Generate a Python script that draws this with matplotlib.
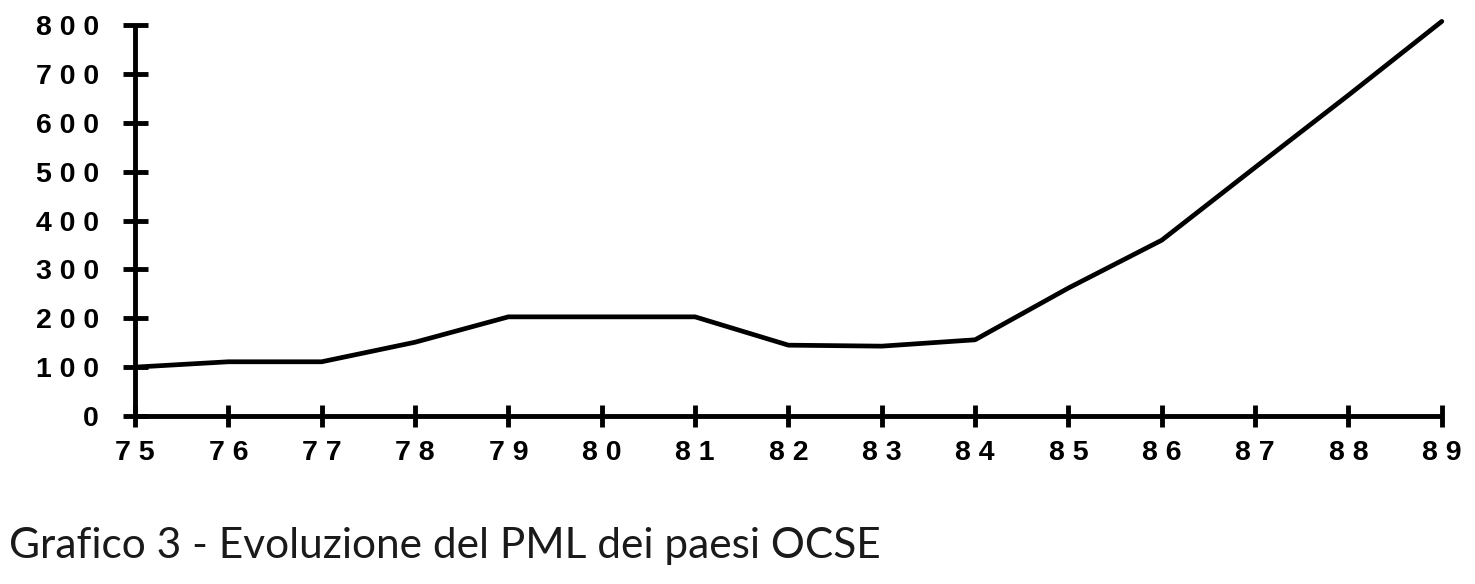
import matplotlib
matplotlib.use("Agg")
import matplotlib.pyplot as plt

# PML dei paesi OCSE, anni 1975-1989
years = [75, 76, 77, 78, 79, 80, 81, 82, 83, 84, 85, 86, 87, 88, 89]
pml = [100, 111, 111, 151, 203, 203, 203, 145, 143, 156, 262, 360, 509, 657, 808]
y_ticks = [0, 100, 200, 300, 400, 500, 600, 700, 800]


def spaced(s):
    # the original prints digits with wide letter spacing
    return " ".join(str(s))


fig = plt.figure(figsize=(14.75, 5.84), dpi=100)
ax = fig.add_axes([0.0915, 0.2877, 0.886, 0.669])

ax.plot(years, pml, color="black", linewidth=3.4, clip_on=False,
        solid_joinstyle="round", solid_capstyle="round")

ax.set_xlim(75, 89)
ax.set_ylim(0, 800)

for side in ["top", "right"]:
    ax.spines[side].set_visible(False)
for side in ["left", "bottom"]:
    ax.spines[side].set_linewidth(3.5)
    ax.spines[side].set_capstyle("butt")

ax.set_xticks(years)
ax.set_xticklabels([spaced(y) for y in years])
ax.set_yticks(y_ticks)
ax.set_yticklabels([spaced(v) for v in y_ticks])

ax.tick_params(axis="y", direction="inout", length=18, width=3.5, pad=17)
ax.tick_params(axis="x", direction="inout", length=16, width=3.5, pad=9)
for lab in ax.get_xticklabels() + ax.get_yticklabels():
    lab.set_family("Liberation Sans")
    lab.set_fontweight("bold")
    lab.set_fontsize(20.5)

fig.text(0.006, 0.045, "Grafico 3 - Evoluzione del PML dei paesi OCSE",
         family="Lato", fontsize=30.5, color="#1a1a1a", ha="left", va="baseline")

fig.savefig("out.png", dpi=100, facecolor="white")
